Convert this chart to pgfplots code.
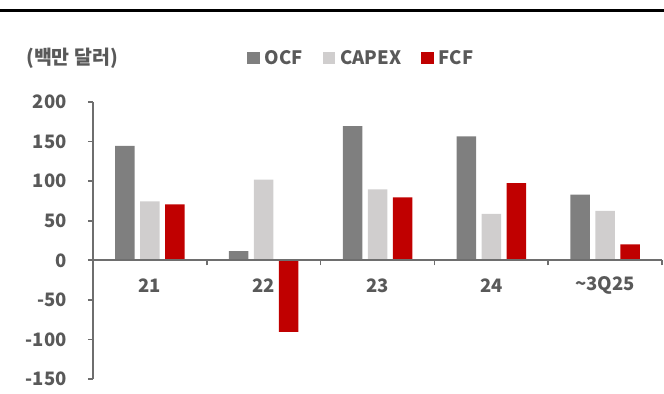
\documentclass[border=0pt]{standalone}
\usepackage{pgfplots}
\pgfplotsset{compat=1.18}
\usepackage{pgfplotstable}
\usepackage{fontspec}
\setmainfont{Noto Sans CJK KR}

\definecolor{ocf}{HTML}{7F7F7F}
\definecolor{capex}{HTML}{D0CECE}
\definecolor{fcf}{HTML}{C00000}
\definecolor{txt}{HTML}{595959}
\definecolor{axisgray}{HTML}{6E6E6E}

% Cash flow by year, million USD
\pgfplotstableread{
x ocf   capex  fcf
0 144.5 74.5   70.5
1 11.5  102.0  -90.5
2 169.5 89.5   79.5
3 156.5 58.5   97.5
4 83.0  62.5   20.0
}\cashflow

\newcommand{\lbl}{\bfseries\fontsize{18.5bp}{22bp}\selectfont\color{txt}}

\begin{document}
\begin{tikzpicture}
\path[use as bounding box] (0,0) rectangle (664bp,394bp);
\draw[black, line width=2.5bp] (0,383.5bp) -- (664bp,383.5bp);
\node[anchor=west, inner sep=0pt, font=\bfseries\fontsize{19.5bp}{22bp}\selectfont\color{txt}]
  at (26bp,336bp) {(백만 달러)};
\begin{axis}[
  at={(93bp,15bp)}, anchor=south west,
  scale only axis, width=569bp, height=277bp,
  xmin=-0.5, xmax=4.5, ymin=-150, ymax=200,
  axis y line=left, axis x line=middle,
  axis line style={axisgray, line width=1.6bp, -},
  axis on top,
  ytick={-150,-100,-50,0,50,100,150,200},
  yticklabels={-150,-100,-50,0,50,100,150,200},
  xtick={0,1,2,3,4},
  xticklabels={21,22,23,24,\textasciitilde 3Q25},
  minor xtick={-0.5,0.5,1.5,2.5,3.5,4.5},
  tick align=outside,
  major tick length=5bp, minor tick length=5bp,
  tick style={axisgray, line width=1.6bp},
  major x tick style={draw=none},
  ticklabel style={font=\lbl},
  yticklabel style={inner sep=0pt, anchor=east, xshift=-21bp},
  xticklabel style={inner sep=0pt, anchor=center, yshift=-20bp},
  ybar, bar width=19.5bp,
  legend columns=-1,
  legend style={at={(0.2707,1.159)}, anchor=west, draw=none, fill=none,
    inner sep=0pt, font=\lbl,
    /tikz/every odd column/.append style={column sep=3bp},
    /tikz/every even column/.append style={column sep=18bp}},
  legend image code/.code={\fill[#1] (0bp,-6bp) rectangle (12.5bp,6bp);},
]
\addplot[fill=ocf, draw=none, bar shift=-25bp] table[x=x, y=ocf] {\cashflow};
\addplot[fill=capex, draw=none, bar shift=0bp] table[x=x, y=capex] {\cashflow};
\addplot[fill=fcf, draw=none, bar shift=25bp] table[x=x, y=fcf] {\cashflow};
\legend{OCF, CAPEX, FCF}
\end{axis}
\end{tikzpicture}
\end{document}
